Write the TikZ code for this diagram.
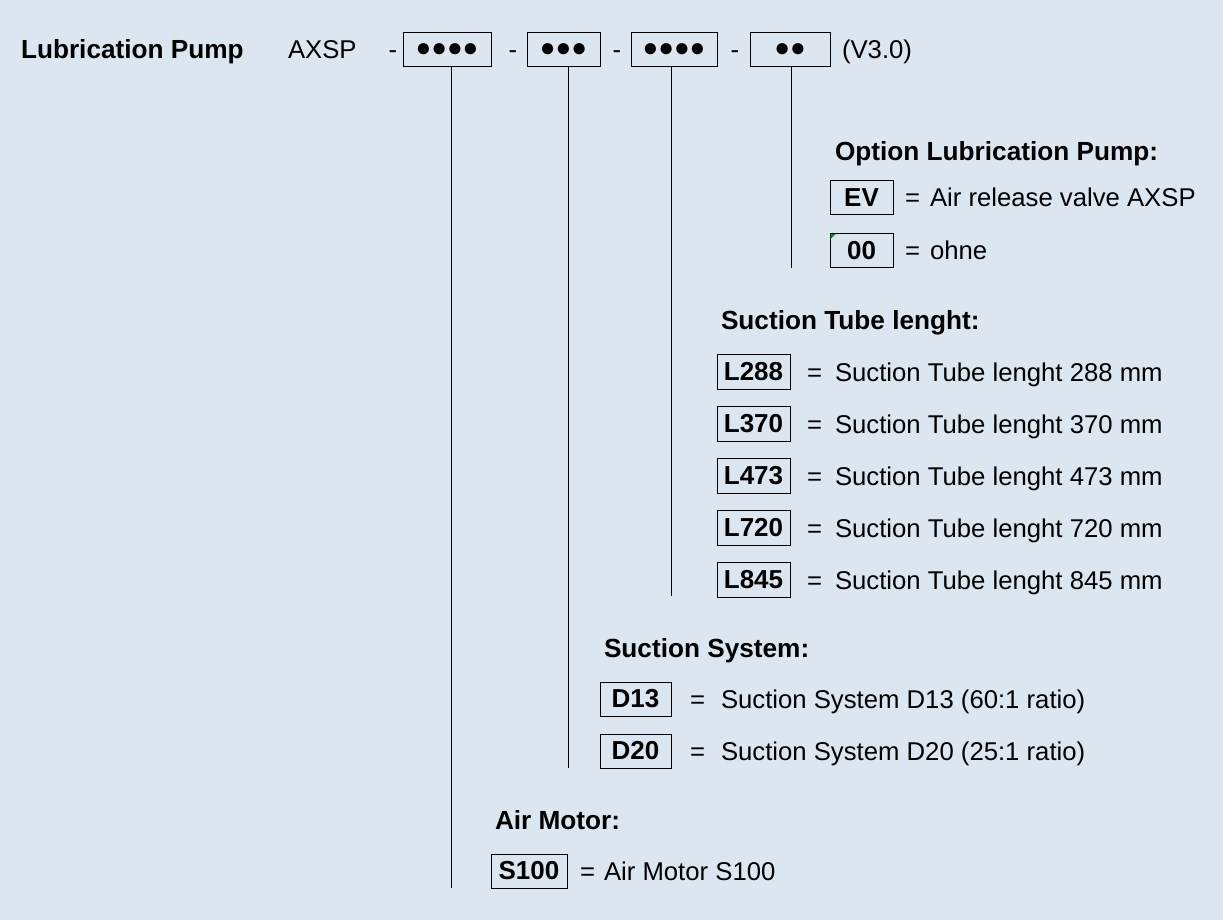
\documentclass[tikz,border=0pt]{standalone}
\usepackage{fontspec}
\setmainfont{Liberation Sans}
\definecolor{bgc}{RGB}{220,230,241}
\definecolor{cmark}{RGB}{20,130,40}
\begin{document}
\begin{tikzpicture}[x=1pt,y=-1pt,
  every node/.style={font=\fontsize{25.7}{30}\selectfont, inner sep=0pt, outer sep=0pt, text=black},
  code/.style={draw=black, line width=1pt, minimum height=34pt, font=\fontsize{26}{30}\selectfont\bfseries},
  hdr/.style={draw=black, line width=1pt, minimum height=34pt, font=\fontsize{26}{30}\selectfont},
  ttl/.style={anchor=base west, font=\fontsize{26.2}{30}\selectfont\bfseries},
  txt/.style={anchor=base west},
  sepdash/.style={anchor=base},
  lead/.style={line width=1pt, draw=black}]
\fill[bgc] (0,0) rectangle (1223,920);
\useasboundingbox (0,0) rectangle (1223,920);

% header
\node[ttl] (title) at (21,59) {Lubrication Pump};
\node[txt] (axsp) at (288,59) {AXSP};
\node[sepdash] (d1) at (393,59) {-};
\node[hdr, minimum width=88pt] (h1) at (447,50) {●●●●};
\node[sepdash] (d2) at (513,59) {-};
\node[hdr, minimum width=73pt] (h2) at (563.5,50) {●●●};
\node[sepdash] (d3) at (617,59) {-};
\node[hdr, minimum width=86pt] (h3) at (674,50) {●●●●};
\node[sepdash] (d4) at (735,59) {-};
\node[hdr, minimum width=80pt] (h4) at (790,50) {●●};
\node[txt] (ver) at (842,59) {(V3.0)};

% leader end points
\coordinate (e1) at (451,888);
\coordinate (e2) at (568,768);
\coordinate (e3) at (671,596);
\coordinate (e4) at (791,268);
\draw[lead] (h1.south -| e1) -- (e1);
\draw[lead] (h2.south -| e2) -- (e2);
\draw[lead] (h3.south -| e3) -- (e3);
\draw[lead] (h4.south -| e4) -- (e4);

% Option Lubrication Pump
\node[ttl] (t4) at (835,161) {Option Lubrication Pump:};
\node[code, minimum width=63pt] (ev) at (861.5,198) {EV};
\node[txt] (ev-eq) at (905,207) {=};
\node[txt] (ev-d) at (930,207) {Air release valve AXSP};
\node[code, minimum width=63pt] (oo) at (861.5,250.5) {00};
\fill[cmark] (oo.north west) ++(0.5,0.5) -- ++(5,0) -- ++(-5,5) -- cycle;
\node[txt] (oo-eq) at (905,259.5) {=};
\node[txt] (oo-d) at (930,259.5) {ohne};

% Suction Tube lenght
\node[ttl] (t3) at (721,329) {Suction Tube lenght:};
\foreach \n/\y in {288/372,370/424,473/476,720/528,845/580}{
  \node[code, minimum width=73pt, minimum height=35pt] (l\n) at (753.5,\y) {L\n};
  \node[txt] (l\n-eq) at (807,\y+9) {=};
  \node[txt] (l\n-d) at (835,\y+9) {Suction Tube lenght \n\ mm};
}

% Suction System
\node[ttl] (t2) at (604,657) {Suction System:};
\node[code, minimum width=71pt] (d13) at (635.5,699) {D13};
\node[txt] (d13-eq) at (690,708) {=};
\node[txt] (d13-d) at (721,708) {Suction System D13 (60:1 ratio)};
\node[code, minimum width=71pt] (d20) at (635.5,751) {D20};
\node[txt] (d20-eq) at (690,760) {=};
\node[txt] (d20-d) at (721,760) {Suction System D20 (25:1 ratio)};

% Air Motor
\node[ttl] (t1) at (495,829) {Air Motor:};
\node[code, minimum width=76pt] (s100) at (529,871) {S100};
\node[txt] (s-eq) at (580,880) {=};
\node[txt] (s-d) at (604,880) {Air Motor S100};
\end{tikzpicture}
\end{document}
